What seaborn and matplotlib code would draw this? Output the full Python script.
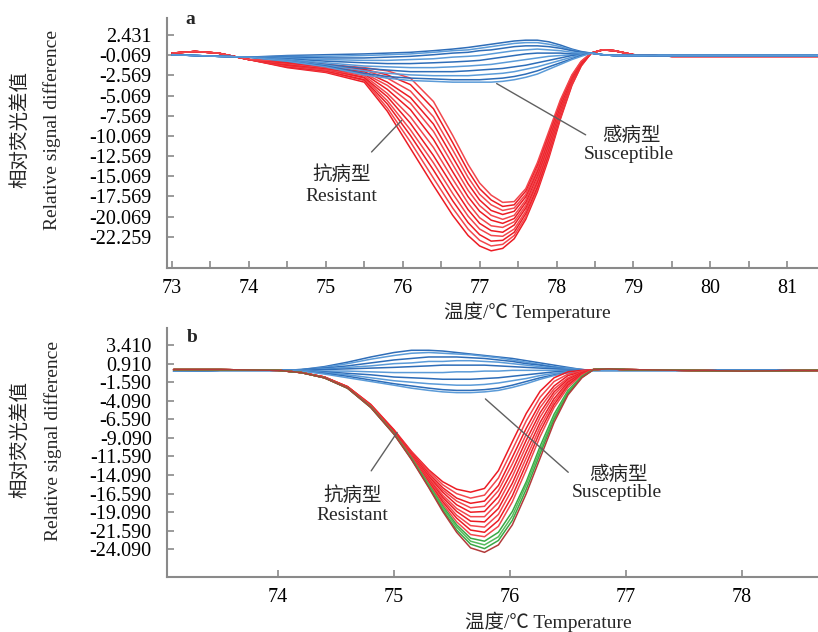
import matplotlib
matplotlib.use("Agg")
import matplotlib.pyplot as plt
import seaborn as sns
import pandas as pd

# ---------------- panel a ----------------
temp_a_head = [73.0, 73.3, 73.6, 74.0]
temp_a_dip = [74.5, 75.0, 75.5, 75.8, 76.1, 76.4, 76.65, 76.85, 77.0, 77.15,
              77.3, 77.45, 77.6, 77.75, 77.9, 78.05, 78.2, 78.32, 78.45]
temp_a_tail = [78.6, 78.75, 79.0, 79.5, 81.4]

red_a_head = [0.2, 0.4, 0.2, -0.6]
red_a_tail = [0.6, 0.5, 0.0, -0.2, -0.2]
blue_a_head = [0.0, -0.1, -0.2, -0.3]
blue_a_tail = [0.0, -0.1, -0.1, -0.1, -0.1]

red_a = [
    [-1.6, -2.2, -3.4, -7.0, -11.6, -16.2, -19.9, -22.4, -23.7, -24.3, -24.0, -22.8, -20.4, -17.0, -12.8, -8.0, -3.8, -1.4, 0.2],
    [-1.5, -2.1, -3.2, -6.6, -10.8, -15.3, -19.0, -21.6, -23.0, -23.7, -23.5, -22.4, -20.1, -16.7, -12.5, -7.8, -3.7, -1.4, 0.2],
    [-1.5, -2.0, -3.1, -6.1, -10.0, -14.3, -18.1, -20.8, -22.3, -23.1, -23.0, -22.0, -19.7, -16.4, -12.2, -7.6, -3.6, -1.3, 0.2],
    [-1.4, -1.9, -2.9, -5.7, -9.3, -13.4, -17.2, -20.0, -21.6, -22.4, -22.5, -21.6, -19.4, -16.0, -11.9, -7.4, -3.5, -1.2, 0.2],
    [-1.3, -1.8, -2.8, -5.2, -8.5, -12.5, -16.3, -19.2, -20.9, -21.8, -22.0, -21.1, -19.0, -15.7, -11.6, -7.1, -3.3, -1.2, 0.2],
    [-1.2, -1.8, -2.6, -4.8, -7.7, -11.5, -15.4, -18.4, -20.2, -21.2, -21.4, -20.7, -18.7, -15.4, -11.3, -6.9, -3.2, -1.1, 0.2],
    [-1.2, -1.7, -2.4, -4.3, -6.8, -10.5, -14.5, -17.6, -19.4, -20.5, -20.9, -20.3, -18.3, -15.0, -11.0, -6.7, -3.1, -1.1, 0.2],
    [-1.1, -1.6, -2.3, -3.8, -6.0, -9.5, -13.6, -16.8, -18.7, -19.9, -20.4, -19.9, -18.0, -14.7, -10.7, -6.5, -3.0, -1.0, 0.2],
    [-1.0, -1.5, -2.1, -3.4, -5.3, -8.6, -12.7, -16.0, -18.0, -19.3, -19.8, -19.4, -17.6, -14.4, -10.4, -6.3, -2.9, -1.0, 0.2],
    [-0.9, -1.4, -1.9, -2.9, -4.5, -7.7, -11.8, -15.2, -17.3, -18.6, -19.3, -19.0, -17.3, -14.1, -10.1, -6.0, -2.7, -0.9, 0.2],
    [-0.9, -1.3, -1.8, -2.5, -3.7, -6.7, -10.9, -14.4, -16.6, -18.0, -18.8, -18.6, -16.9, -13.7, -9.8, -5.8, -2.6, -0.9, 0.2],
    [-0.8, -1.2, -1.6, -2.0, -2.9, -5.8, -10.0, -13.6, -15.9, -17.4, -18.3, -18.2, -16.6, -13.4, -9.5, -5.6, -2.5, -0.8, 0.2],
]

blue_a = [
    [-0.1, 0.0, 0.1, 0.2, 0.3, 0.5, 0.7, 0.9, 1.1, 1.3, 1.5, 1.7, 1.8, 1.8, 1.6, 1.2, 0.7, 0.4, 0.2],
    [-0.2, -0.2, -0.1, 0.0, 0.1, 0.3, 0.5, 0.6, 0.8, 1.0, 1.2, 1.4, 1.5, 1.5, 1.3, 1.0, 0.6, 0.3, 0.2],
    [-0.3, -0.4, -0.4, -0.3, -0.2, 0.0, 0.2, 0.3, 0.5, 0.6, 0.8, 1.0, 1.1, 1.1, 1.0, 0.8, 0.5, 0.3, 0.2],
    [-0.4, -0.6, -0.7, -0.7, -0.6, -0.5, -0.3, -0.2, -0.1, 0.1, 0.3, 0.5, 0.6, 0.7, 0.6, 0.5, 0.3, 0.2, 0.2],
    [-0.5, -0.8, -1.0, -1.1, -1.1, -1.0, -0.9, -0.8, -0.7, -0.5, -0.3, -0.1, 0.1, 0.2, 0.2, 0.2, 0.1, 0.1, 0.2],
    [-0.6, -1.0, -1.4, -1.5, -1.6, -1.6, -1.5, -1.4, -1.3, -1.2, -1.0, -0.8, -0.6, -0.4, -0.2, -0.1, 0.0, 0.1, 0.2],
    [-0.7, -1.2, -1.7, -1.9, -2.1, -2.1, -2.1, -2.0, -1.9, -1.8, -1.7, -1.5, -1.3, -1.0, -0.7, -0.4, -0.1, 0.0, 0.2],
    [-0.7, -1.3, -2.0, -2.3, -2.5, -2.6, -2.6, -2.6, -2.5, -2.4, -2.3, -2.1, -1.8, -1.5, -1.1, -0.7, -0.3, 0.0, 0.2],
    [-0.8, -1.4, -2.3, -2.7, -2.9, -3.0, -3.1, -3.1, -3.1, -3.0, -2.9, -2.7, -2.4, -2.0, -1.5, -1.0, -0.5, -0.1, 0.2],
    [-0.8, -1.5, -2.5, -2.9, -3.2, -3.3, -3.4, -3.4, -3.4, -3.4, -3.3, -3.1, -2.8, -2.4, -1.8, -1.2, -0.6, -0.2, 0.2],
]

yticks_a = [2.431, -0.069, -2.569, -5.069, -7.569, -10.069, -12.569,
            -15.069, -17.569, -20.069, -22.569]
ylabels_a = ["2.431", "-0.069", "-2.569", "-5.069", "-7.569", "-10.069",
             "-12.569", "-15.069", "-17.569", "-20.069", "-22.259"]
xticks_a = [73, 73.5, 74, 74.5, 75, 75.5, 76, 76.5, 77, 77.5, 78, 78.5,
            79, 79.5, 80, 80.5, 81]
xlabels_a = ["73", "", "74", "", "75", "", "76", "", "77", "", "78", "",
             "79", "", "80", "", "81"]

# ---------------- panel b ----------------
temp_b_head = [73.1, 73.5, 74.0]
temp_b_dip = [74.2, 74.4, 74.6, 74.8, 75.0, 75.15, 75.3, 75.42, 75.54, 75.66,
              75.78, 75.9, 76.02, 76.14, 76.26, 76.38, 76.5, 76.62, 76.72]
temp_b_tail = [76.85, 77.0, 77.5, 78.0, 78.7]

red_b_head = [0.1, 0.1, 0.0]
red_b_tail = [0.2, 0.1, 0.0, -0.1, 0.0]
blue_b_head = [-0.1, 0.0, 0.0]
blue_b_tail = [0.0, 0.0, 0.0, 0.0, 0.0]

red_b = [
    [-0.3, -0.9, -2.2, -4.6, -8.0, -10.9, -13.4, -15.0, -16.0, -16.4, -15.9, -13.5, -9.6, -5.8, -2.8, -1.0, -0.2, 0.0, 0.1],
    [-0.3, -0.9, -2.2, -4.6, -8.1, -11.0, -13.6, -15.4, -16.6, -17.2, -16.8, -14.5, -10.7, -6.8, -3.6, -1.5, -0.5, -0.1, 0.1],
    [-0.3, -0.9, -2.2, -4.7, -8.1, -11.1, -13.9, -15.8, -17.2, -17.9, -17.6, -15.5, -11.7, -7.8, -4.4, -2.1, -0.7, -0.2, 0.1],
    [-0.3, -0.9, -2.3, -4.7, -8.2, -11.2, -14.1, -16.1, -17.6, -18.5, -18.3, -16.2, -12.6, -8.6, -5.0, -2.5, -1.0, -0.2, 0.1],
    [-0.3, -0.9, -2.3, -4.7, -8.2, -11.3, -14.3, -16.4, -18.1, -19.1, -19.0, -17.0, -13.5, -9.4, -5.7, -2.9, -1.2, -0.3, 0.1],
    [-0.3, -0.9, -2.3, -4.8, -8.3, -11.4, -14.5, -16.8, -18.6, -19.7, -19.7, -17.8, -14.3, -10.2, -6.3, -3.3, -1.4, -0.4, 0.1],
    [-0.3, -1.0, -2.3, -4.8, -8.3, -11.5, -14.7, -17.1, -19.0, -20.3, -20.4, -18.6, -15.2, -11.0, -7.0, -3.8, -1.6, -0.4, 0.1],
    [-0.3, -1.0, -2.3, -4.8, -8.4, -11.6, -14.8, -17.4, -19.5, -20.9, -21.1, -19.4, -16.0, -11.8, -7.6, -4.2, -1.8, -0.5, 0.1],
    [-0.3, -1.0, -2.3, -4.9, -8.4, -11.7, -15.0, -17.7, -19.9, -21.5, -21.8, -20.2, -16.9, -12.6, -8.2, -4.6, -2.0, -0.5, 0.1],
    [-0.3, -1.0, -2.4, -4.9, -8.5, -11.7, -15.2, -18.0, -20.4, -22.1, -22.4, -21.0, -17.7, -13.4, -8.9, -5.0, -2.3, -0.6, 0.1],
]
green_b = [
    [-0.3, -1.0, -2.4, -4.9, -8.5, -11.8, -15.4, -18.3, -20.8, -22.6, -23.0, -21.8, -19.0, -15.0, -10.2, -5.9, -2.7, -0.8, 0.1],
    [-0.3, -1.0, -2.4, -5.0, -8.5, -11.9, -15.5, -18.5, -21.1, -23.0, -23.5, -22.4, -19.6, -15.4, -10.7, -6.3, -2.9, -0.9, 0.1],
    [-0.3, -1.0, -2.4, -5.0, -8.6, -11.9, -15.7, -18.8, -21.5, -23.4, -24.0, -22.9, -20.2, -16.0, -11.2, -6.6, -3.1, -0.9, 0.1],
]
deep_b = [
    [-0.3, -1.0, -2.4, -5.0, -8.6, -12.0, -15.8, -19.0, -21.8, -23.9, -24.5, -23.5, -20.8, -16.6, -11.8, -7.0, -3.3, -1.0, 0.1],
]
blue_b = [
    [0.1, 0.5, 1.1, 1.8, 2.4, 2.7, 2.7, 2.6, 2.4, 2.2, 2.0, 1.8, 1.6, 1.3, 1.0, 0.7, 0.4, 0.1, 0.0],
    [0.1, 0.4, 0.9, 1.5, 2.0, 2.3, 2.4, 2.3, 2.2, 2.1, 1.9, 1.7, 1.4, 1.1, 0.8, 0.5, 0.3, 0.1, 0.0],
    [0.1, 0.3, 0.6, 1.0, 1.4, 1.6, 1.8, 1.8, 1.8, 1.7, 1.6, 1.4, 1.2, 0.9, 0.7, 0.4, 0.2, 0.1, 0.0],
    [0.0, 0.2, 0.4, 0.6, 0.9, 1.0, 1.2, 1.2, 1.3, 1.3, 1.2, 1.1, 0.9, 0.7, 0.5, 0.3, 0.2, 0.1, 0.0],
    [0.0, 0.1, 0.2, 0.3, 0.4, 0.5, 0.6, 0.7, 0.7, 0.7, 0.7, 0.6, 0.5, 0.4, 0.3, 0.2, 0.1, 0.0, 0.0],
    [0.0, -0.1, -0.1, -0.2, -0.3, -0.3, -0.3, -0.3, -0.2, -0.2, -0.1, -0.1, 0.0, 0.0, 0.0, 0.0, 0.0, 0.0, 0.0],
    [0.0, -0.2, -0.4, -0.6, -0.9, -1.0, -1.1, -1.2, -1.2, -1.2, -1.1, -1.0, -0.8, -0.6, -0.4, -0.2, -0.1, 0.0, 0.0],
    [0.0, -0.3, -0.6, -1.0, -1.4, -1.6, -1.8, -1.9, -2.0, -2.0, -1.9, -1.7, -1.4, -1.1, -0.7, -0.4, -0.2, 0.0, 0.0],
    [-0.1, -0.4, -0.8, -1.3, -1.8, -2.1, -2.4, -2.6, -2.7, -2.7, -2.6, -2.4, -2.0, -1.5, -1.0, -0.6, -0.3, -0.1, 0.0],
    [-0.1, -0.5, -1.0, -1.5, -2.0, -2.4, -2.7, -2.9, -3.0, -3.0, -2.9, -2.7, -2.3, -1.8, -1.2, -0.7, -0.3, -0.1, 0.0],
]

yticks_b = [3.41, 0.91, -1.59, -4.09, -6.59, -9.09, -11.59, -14.09,
            -16.59, -19.09, -21.59, -24.09]
ylabels_b = ["3.410", "0.910", "-1.590", "-4.090", "-6.590", "-9.090",
             "-11.590", "-14.090", "-16.590", "-19.090", "-21.590", "-24.090"]
xticks_b = [74, 75, 76, 77, 78]

RED = ["#ec1c24", "#f2474d"]
BLUE = ["#2e6db8", "#5b9bd8"]
GREEN = ["#3aa845", "#55bb5c"]
DEEP = ["#b23b3b"]


def build(head_t, dip_t, tail_t, head_v, tail_v, curves, name, colors, palette):
    rows = []
    temps = head_t + dip_t + tail_t
    for i, vals in enumerate(curves):
        key = f"{name}{i}"
        palette[key] = colors[i % len(colors)]
        for t, v in zip(temps, head_v + vals + tail_v):
            rows.append({"temp": t, "value": v, "curve": key})
    return pd.DataFrame(rows)


def draw(df, pal, ax):
    sns.lineplot(data=df, x="temp", y="value", hue="curve", units="curve",
                 estimator=None, palette=pal, legend=False, linewidth=1.1, ax=ax)


sns.set_style("white")
plt.rcParams["font.family"] = ["Liberation Serif", "Noto Sans CJK SC", "DejaVu Sans"]

fig = plt.figure(figsize=(8.18, 6.32), dpi=100)
W, H = 818, 632
ax_a = fig.add_axes([167 / W, 1 - 268 / H, (W - 167) / W, 250 / H])
ax_b = fig.add_axes([167 / W, 1 - 577 / H, (W - 167) / W, 249 / H])

# panel a curves
pal_a = {}
draw(build(temp_a_head, temp_a_dip, temp_a_tail, red_a_head, red_a_tail, red_a, "r", RED, pal_a), pal_a, ax_a)
draw(build(temp_a_head, temp_a_dip, temp_a_tail, blue_a_head, blue_a_tail, blue_a, "b", BLUE, pal_a), pal_a, ax_a)

# panel b curves
pal_b = {}
draw(build(temp_b_head, temp_b_dip, temp_b_tail, blue_b_head, blue_b_tail, blue_b, "b", BLUE, pal_b), pal_b, ax_b)
draw(build(temp_b_head, temp_b_dip, temp_b_tail, red_b_head, red_b_tail, red_b, "r", RED, pal_b), pal_b, ax_b)
draw(build(temp_b_head, temp_b_dip, temp_b_tail, red_b_head, red_b_tail, green_b, "g", GREEN, pal_b), pal_b, ax_b)
draw(build(temp_b_head, temp_b_dip, temp_b_tail, red_b_head, red_b_tail, deep_b, "d", DEEP, pal_b), pal_b, ax_b)

ax_a.set_xlim(72.935, 81.4)
ax_a.set_ylim(-26.43, 4.55)
ax_b.set_xlim(73.043, 78.655)
ax_b.set_ylim(-27.82, 5.70)

ax_a.set_xticks(xticks_a)
ax_a.set_xticklabels(xlabels_a)
ax_a.set_yticks(yticks_a)
ax_a.set_yticklabels(ylabels_a)
ax_b.set_xticks(xticks_b)
ax_b.set_xticklabels([str(x) for x in xticks_b])
ax_b.set_yticks(yticks_b)
ax_b.set_yticklabels(ylabels_b)

for ax in (ax_a, ax_b):
    ax.set_xlabel("")
    ax.set_ylabel("")
    ax.patch.set_alpha(0)
    for s in ("top", "right"):
        ax.spines[s].set_visible(False)
    for s in ("left", "bottom"):
        ax.spines[s].set_color("#8a8a8a")
        ax.spines[s].set_linewidth(1.5)
    ax.tick_params(direction="in", length=5, width=1.2, color="#8a8a8a",
                   labelsize=14.5, labelcolor="black", bottom=True, left=True)
    ax.tick_params(axis="y", pad=11)
    ax.tick_params(axis="x", pad=8)

# panel letters
ax_a.text(0.035, 0.996, "a", transform=ax_a.transAxes, fontsize=14,
          fontweight="bold", ha="center", va="center")
ax_b.text(0.038, 0.96, "b", transform=ax_b.transAxes, fontsize=14,
          fontweight="bold", ha="center", va="center")

# annotations
line_kw = dict(arrowstyle="-", color="#606060", lw=1.0)
ax_a.annotate("", xy=(76.01, -7.9), xytext=(75.57, -12.3), arrowprops=line_kw)
ax_a.text(75.2, -14.8, "抗病型", fontsize=14, ha="center", va="center")
ax_a.text(75.2, -17.6, "Resistant", fontsize=14, ha="center", va="center")
ax_a.annotate("", xy=(77.19, -3.4), xytext=(78.41, -10.1), arrowprops=line_kw)
ax_a.text(78.97, -10.1, "感病型", fontsize=14, ha="center", va="center")
ax_a.text(78.94, -12.4, "Susceptible", fontsize=14, ha="center", va="center")

ax_b.annotate("", xy=(75.04, -8.05), xytext=(74.79, -13.84), arrowprops=line_kw)
ax_b.text(74.64, -16.8, "抗病型", fontsize=14, ha="center", va="center")
ax_b.text(74.64, -19.5, "Resistant", fontsize=14, ha="center", va="center")
ax_b.annotate("", xy=(75.77, -3.6), xytext=(76.52, -13.97), arrowprops=line_kw)
ax_b.text(76.93, -14.1, "感病型", fontsize=14, ha="center", va="center")
ax_b.text(76.92, -16.5, "Susceptible", fontsize=14, ha="center", va="center")

# axis titles
fig.text(20 / W, 1 - 130 / H, "相对荧光差值", rotation=90, fontsize=14, ha="center", va="center")
fig.text(52 / W, 1 - 130 / H, "Relative signal difference", rotation=90, fontsize=14,
         ha="center", va="center")
fig.text(20 / W, 1 - 440 / H, "相对荧光差值", rotation=90, fontsize=14, ha="center", va="center")
fig.text(53 / W, 1 - 441 / H, "Relative signal difference", rotation=90, fontsize=14,
         ha="center", va="center")
fig.text(527 / W, 1 - 312 / H, "温度/℃ Temperature", fontsize=14, ha="center", va="center")
fig.text(548 / W, 1 - 622 / H, "温度/℃ Temperature", fontsize=14, ha="center", va="center")

fig.savefig("out.png", dpi=100)
